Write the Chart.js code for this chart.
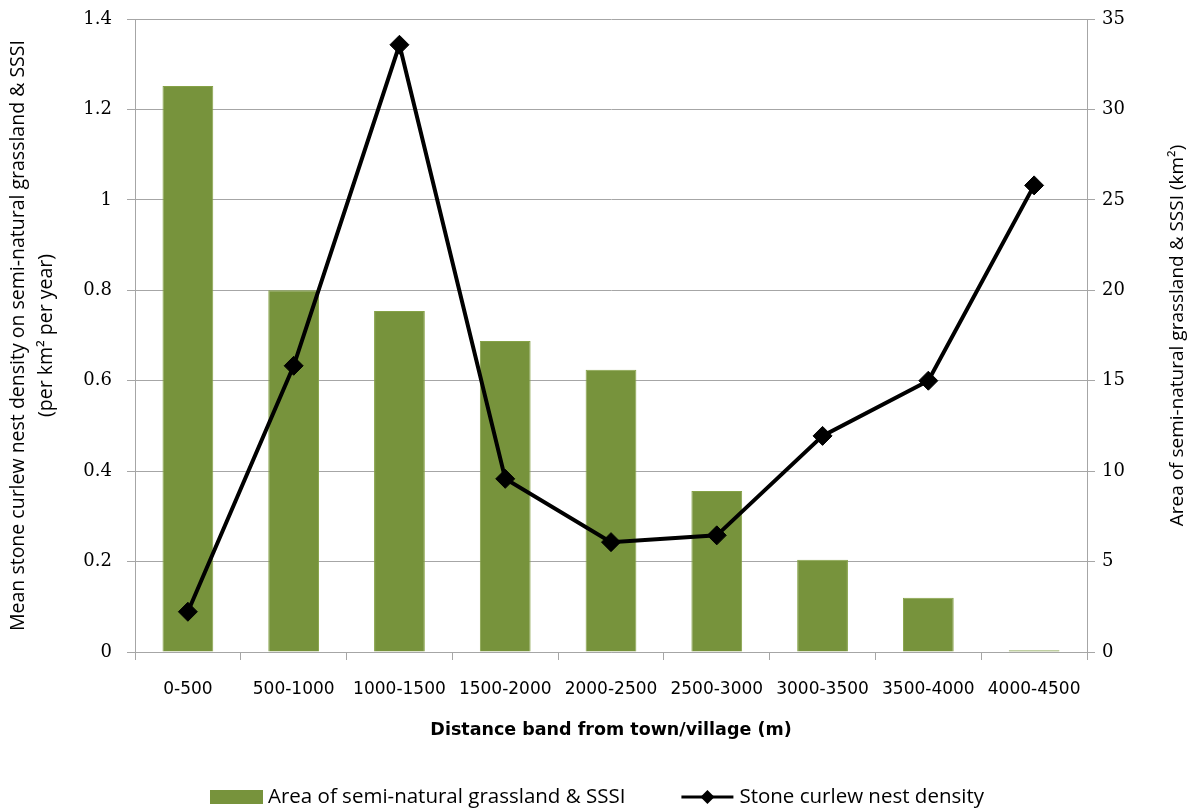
<!DOCTYPE html>
<html>
<head>
<meta charset="utf-8">
<script src="https://cdn.jsdelivr.net/npm/chart.js@4"></script>
<style>
  html, body { margin: 0; padding: 0; background: #fff; }
  #chart { display: block; }
</style>
</head>
<body>
<canvas id="chart" width="1190" height="809"></canvas>
<script>
// distance bands (x categories)
const bands = ["0-500", "500-1000", "1000-1500", "1500-2000", "2000-2500",
               "2500-3000", "3000-3500", "3500-4000", "4000-4500"];
// area of semi-natural grassland & SSSI (km2), right axis
const grassArea = [31.3, 20.0, 18.85, 17.2, 15.6, 8.9, 5.1, 3.0, 0.1];
// stone curlew nest density (per km2 per year), left axis
const nestDensity = [0.089, 0.633, 1.343, 0.383, 0.243, 0.258, 0.478, 0.600, 1.032];

const leftTicks = [0, 0.2, 0.4, 0.6, 0.8, 1, 1.2, 1.4];
const leftTickLabels = ["0", "0.2", "0.4", "0.6", "0.8", "1", "1.2", "1.4"];
const rightTicks = [0, 5, 10, 15, 20, 25, 30, 35];
const rightTickLabels = ["0", "5", "10", "15", "20", "25", "30", "35"];
const rightTitle = "Area of semi-natural grassland & SSSI (km\u00b2)";

const calibri = '"Liberation Sans Narrow", "Open Sans", sans-serif';
const gridGrey = "#a6a6a6";
const green = "#77933c";

// legend under the axis title + right axis title reading bottom-to-top
const extras = {
  id: "extras",
  afterDraw(chart) {
    const ctx = chart.ctx;
    const ds = chart.data.datasets;
    const area = chart.chartArea;
    ctx.save();

    // right axis title, rotated like the left one
    ctx.font = "19px " + calibri;
    ctx.fillStyle = "#000";
    ctx.textAlign = "center";
    ctx.textBaseline = "middle";
    ctx.translate(1178, (area.top + area.bottom) / 2);
    ctx.rotate(-Math.PI / 2);
    ctx.fillText(rightTitle, 0, 0);
    ctx.setTransform(1, 0, 0, 1, 0, 0);

    ctx.font = "20.5px " + calibri;
    ctx.textAlign = "left";
    const w1 = ctx.measureText(ds[0].label).width;
    const w2 = ctx.measureText(ds[1].label).width;
    const total = 53 + 5 + w1 + 56 + 52 + 6 + w2;
    let x = 597 - total / 2;
    const y = 797;

    ctx.fillStyle = green;
    ctx.fillRect(x, y - 7, 53, 14);
    x += 58;
    ctx.fillStyle = "#000";
    ctx.fillText(ds[0].label, x, y);
    x += w1 + 56;

    ctx.strokeStyle = "#000";
    ctx.lineWidth = 3;
    ctx.beginPath();
    ctx.moveTo(x, y);
    ctx.lineTo(x + 52, y);
    ctx.stroke();
    const cx = x + 26;
    ctx.beginPath();
    ctx.moveTo(cx - 7, y);
    ctx.lineTo(cx, y - 7);
    ctx.lineTo(cx + 7, y);
    ctx.lineTo(cx, y + 7);
    ctx.closePath();
    ctx.fill();
    x += 58;
    ctx.fillText(ds[1].label, x, y);
    ctx.restore();
  }
};

// fixed axis widths, no extra label padding above the plot
function fixWidth(w) {
  return scale => {
    scale.width = w;
    scale.paddingTop = 0;
    scale.paddingBottom = 0;
  };
}

const ctx = document.getElementById("chart").getContext("2d");
new Chart(ctx, {
  data: {
    labels: bands,
    datasets: [
      {
        type: "bar",
        label: "Area of semi-natural grassland & SSSI",
        data: grassArea,
        yAxisID: "y1",
        backgroundColor: green,
        borderColor: "#86a247",
        borderWidth: 1,
        barPercentage: 0.48,
        categoryPercentage: 1,
        order: 1
      },
      {
        type: "line",
        label: "Stone curlew nest density",
        data: nestDensity,
        yAxisID: "y",
        borderColor: "#000",
        borderWidth: 4,
        pointStyle: "rectRot",
        pointRadius: 9.5,
        pointBackgroundColor: "#000",
        pointBorderColor: "#000",
        pointBorderWidth: 1,
        tension: 0,
        order: 0
      }
    ]
  },
  options: {
    responsive: false,
    devicePixelRatio: 1,
    animation: false,
    layout: { padding: { top: 19, bottom: 68, left: 0, right: 0 } },
    plugins: {
      legend: { display: false },
      tooltip: { enabled: false }
    },
    scales: {
      x: {
        afterFit(scale) { scale.height = 89; },
        grid: {
          drawOnChartArea: false,
          drawTicks: true,
          tickLength: 8,
          color: gridGrey
        },
        border: { color: gridGrey },
        ticks: {
          color: "#000",
          padding: 19,
          maxRotation: 0,
          font: { family: "DejaVu Sans", size: 17 }
        },
        title: {
          display: true,
          text: "Distance band from town/village (m)",
          color: "#000",
          padding: { top: 0, bottom: 0 },
          font: { family: "DejaVu Sans", size: 17.5, weight: "bold" }
        }
      },
      y: {
        position: "left",
        min: 0,
        max: 1.4,
        afterFit: fixWidth(135),
        afterBuildTicks(scale) { scale.ticks = leftTicks.map(v => ({ value: v })); },
        grid: { color: gridGrey, tickLength: 8 },
        border: { color: gridGrey },
        ticks: {
          color: "#000",
          padding: 15,
          font: { family: "DejaVu Serif", size: 18 },
          callback: (v, i) => leftTickLabels[i]
        },
        title: {
          display: true,
          text: ["Mean stone curlew nest density on semi-natural grassland & SSSI",
                 "(per km\u00b2 per year)"],
          color: "#000",
          padding: { top: 5, bottom: 0 },
          font: { family: calibri, size: 19.5, lineHeight: 1.4 }
        }
      },
      y1: {
        position: "right",
        min: 0,
        max: 35,
        afterFit: fixWidth(103),
        afterBuildTicks(scale) { scale.ticks = rightTicks.map(v => ({ value: v })); },
        grid: { drawOnChartArea: false, color: gridGrey, tickLength: 8 },
        border: { color: gridGrey },
        ticks: {
          color: "#000",
          padding: 7,
          font: { family: "DejaVu Serif", size: 18 },
          callback: (v, i) => rightTickLabels[i]
        },
        title: { display: false }
      }
    }
  },
  plugins: [extras]
});
</script>
</body>
</html>
